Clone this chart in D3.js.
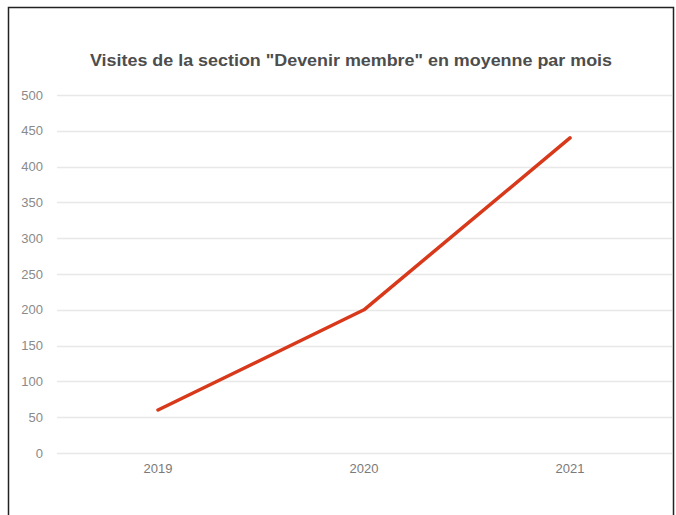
<!DOCTYPE html>
<html>
<head>
<meta charset="utf-8">
<script src="https://cdn.jsdelivr.net/npm/d3@7"></script>
<style>
  html, body { margin: 0; padding: 0; background: #fff; }
  svg { display: block; }
</style>
</head>
<body>
<svg id="chart" width="676" height="515"></svg>
<script>
// Average monthly visits to the "Devenir membre" section
const years = ["2019", "2020", "2021"];
const visits = [60, 200, 440];
const yTicks = [0, 50, 100, 150, 200, 250, 300, 350, 400, 450, 500];
const title = "Visites de la section \"Devenir membre\" en moyenne par mois";

const svg = d3.select("#chart");
const W = 676, H = 515;
const font = "Arial, 'Liberation Sans', sans-serif";

// frame
svg.append("path")
  .attr("d", `M8.5,${H} V7.5 H673.5 V${H}`)
  .attr("fill", "none")
  .attr("stroke", "#222")
  .attr("stroke-width", 1.5);

const x = d3.scaleBand().domain(years).range([55, 673]);
const y = d3.scaleLinear().domain([0, 500]).range([453, 95]);

// gridlines
svg.append("g")
  .selectAll("line")
  .data(yTicks)
  .join("line")
  .attr("x1", 57).attr("x2", 672)
  .attr("y1", d => Math.round(y(d)) + 0.5)
  .attr("y2", d => Math.round(y(d)) + 0.5)
  .attr("stroke", "#e8e8e8")
  .attr("stroke-width", 1.5);

// y axis labels
const yAxis = svg.append("g")
  .attr("transform", "translate(43,0)")
  .call(d3.axisLeft(y).tickValues(yTicks).tickSize(0).tickPadding(0));
yAxis.select(".domain").remove();
yAxis.selectAll("text")
  .attr("fill", "#8a8a8a")
  .attr("font-size", 13)
  .attr("font-family", font);

// x axis labels
const xAxis = svg.append("g")
  .attr("transform", "translate(0,461)")
  .call(d3.axisBottom(x).tickSize(0).tickPadding(3));
xAxis.select(".domain").remove();
xAxis.selectAll("text")
  .attr("fill", "#7a7a7a")
  .attr("font-size", 13)
  .attr("font-family", font);

// series line
const line = d3.line()
  .x((d, i) => x(years[i]) + x.bandwidth() / 2)
  .y(d => y(d));
svg.append("path")
  .datum(visits)
  .attr("d", line)
  .attr("fill", "none")
  .attr("stroke", "#d8391b")
  .attr("stroke-width", 3.5)
  .attr("stroke-linecap", "round")
  .attr("stroke-linejoin", "round");

// title
svg.append("text")
  .attr("x", 90)
  .attr("y", 66)
  .attr("textLength", 522)
  .attr("lengthAdjust", "spacingAndGlyphs")
  .attr("font-family", font)
  .attr("font-size", 16)
  .attr("font-weight", "bold")
  .attr("fill", "#4d4d4d")
  .text(title);
</script>
</body>
</html>
